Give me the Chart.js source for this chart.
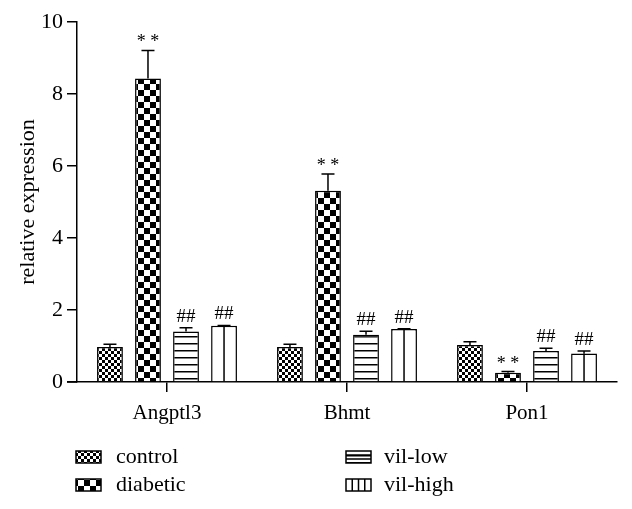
<!DOCTYPE html>
<html>
<head>
<meta charset="utf-8">
<script src="https://cdn.jsdelivr.net/npm/chart.js@4.4.1/dist/chart.umd.min.js"></script>
<style>
html,body{margin:0;padding:0;background:#fff;}
#wrap{width:632px;height:509px;position:relative;}
</style>
</head>
<body>
<div id="wrap"><canvas id="c" width="632" height="509"></canvas></div>
<script>
const categories = ['Angptl3', 'Bhmt', 'Pon1'];
const seriesNames = ['control', 'diabetic', 'vil-low', 'vil-high'];
const controlVals  = [0.97, 0.97, 1.03];
const diabeticVals = [8.43, 5.31, 0.26];
const vilLowVals   = [1.40, 1.31, 0.86];
const vilHighVals  = [1.56, 1.47, 0.79];
const controlErr   = [0.08, 0.08, 0.09];
const diabeticErr  = [0.78, 0.47, 0.03];
const vilLowErr    = [0.11, 0.10, 0.08];
const vilHighErr   = [0.01, 0.01, 0.07];
const controlMarks  = ['', '', ''];
const diabeticMarks = ['* *', '* *', '* *'];
const vilLowMarks   = ['##', '##', '##'];
const vilHighMarks  = ['##', '##', '##'];
const yTicks = [0, 2, 4, 6, 8, 10];

const FONT = '"Liberation Serif", "DejaVu Serif", serif';

function makePattern(kind) {
  const c = document.createElement('canvas');
  const ctx = c.getContext('2d');
  if (kind === 'fine') {
    const s = 3;
    c.width = 2 * s; c.height = 2 * s;
    ctx.fillStyle = '#fff'; ctx.fillRect(0, 0, c.width, c.height);
    ctx.fillStyle = '#000';
    ctx.fillRect(0, 0, s, s); ctx.fillRect(s, s, s, s);
  } else if (kind === 'coarse') {
    const s = 6;
    c.width = 2 * s; c.height = 2 * s;
    ctx.fillStyle = '#fff'; ctx.fillRect(0, 0, c.width, c.height);
    ctx.fillStyle = '#000';
    ctx.fillRect(0, 0, s, s); ctx.fillRect(s, s, s, s);
  } else if (kind === 'hlines') {
    c.width = 8; c.height = 7;
    ctx.fillStyle = '#fff'; ctx.fillRect(0, 0, 8, 7);
    ctx.fillStyle = '#000'; ctx.fillRect(0, 0, 8, 1.5);
  }
  return ctx.createPattern(c, 'repeat');
}
const ctx = document.getElementById('c').getContext('2d');
const fills = [makePattern('fine'), makePattern('coarse'), makePattern('hlines'), '#ffffff'];
const valueSets = [controlVals, diabeticVals, vilLowVals, vilHighVals];
const errSets = [controlErr, diabeticErr, vilLowErr, vilHighErr];
const markSets = [controlMarks, diabeticMarks, vilLowMarks, vilHighMarks];

const datasets = seriesNames.map((n, i) => ({
  label: n,
  data: valueSets[i],
  backgroundColor: fills[i],
  borderColor: '#000',
  borderWidth: 1.5,
  borderSkipped: 'bottom',
  categoryPercentage: 0.845,
  barPercentage: 0.68,
  errs: errSets[i],
  marks: markSets[i]
}));

const errorBarPlugin = {
  id: 'errbars',
  afterDatasetsDraw(chart) {
    const c = chart.ctx;
    const y = chart.scales.y;
    c.save();
    // small extension of the x axis line to the left of the y axis
    const a = chart.chartArea;
    c.strokeStyle = '#000';
    c.lineWidth = 1.5;
    c.beginPath();
    c.moveTo(a.left - 10, y.getPixelForValue(0));
    c.lineTo(a.left, y.getPixelForValue(0));
    c.stroke();
    chart.data.datasets.forEach((ds, di) => {
      const meta = chart.getDatasetMeta(di);
      meta.data.forEach((bar, i) => {
        const v = ds.data[i];
        const top = y.getPixelForValue(v + ds.errs[i]);
        const barTop = y.getPixelForValue(v);
        c.strokeStyle = '#000';
        c.lineWidth = 1.5;
        if (di === 3) {
          c.beginPath();
          c.moveTo(bar.x, barTop);
          c.lineTo(bar.x, bar.base);
          c.stroke();
        }
        c.beginPath();
        c.moveTo(bar.x, barTop);
        c.lineTo(bar.x, top);
        c.moveTo(bar.x - 6.5, top);
        c.lineTo(bar.x + 6.5, top);
        c.stroke();
        const m = ds.marks[i];
        if (m) {
          c.fillStyle = '#000';
          c.textAlign = 'center';
          c.textBaseline = 'alphabetic';
          if (m.indexOf('*') >= 0) {
            c.font = '18px ' + FONT;
            c.fillText(m, bar.x, top - 3);
          } else {
            c.font = '19px ' + FONT;
            c.fillText(m, bar.x, top - 6);
          }
        }
      });
    });
    c.restore();
  }
};

const legendPlugin = {
  id: 'customLegend',
  afterDraw(chart) {
    const c = chart.ctx;
    const pos = [
      {bx: 76, by: 451, tx: 116},
      {bx: 76, by: 479, tx: 116},
      {bx: 346, by: 451, tx: 384},
      {bx: 346, by: 479, tx: 384}
    ];
    c.save();
    seriesNames.forEach((n, i) => {
      const p = pos[i];
      const w = 25, h = 12;
      c.fillStyle = fills[i];
      c.fillRect(p.bx, p.by, w, h);
      c.strokeStyle = '#000';
      c.lineWidth = 1.5;
      if (i === 2) {
        c.beginPath();
        c.moveTo(p.bx, p.by + h / 3); c.lineTo(p.bx + w, p.by + h / 3);
        c.moveTo(p.bx, p.by + 2 * h / 3); c.lineTo(p.bx + w, p.by + 2 * h / 3);
        c.stroke();
      }
      if (i === 3) {
        c.beginPath();
        for (let k = 1; k < 4; k++) {
          c.moveTo(p.bx + k * w / 4, p.by); c.lineTo(p.bx + k * w / 4, p.by + h);
        }
        c.stroke();
      }
      c.strokeRect(p.bx, p.by, w, h);
      c.fillStyle = '#000';
      c.font = '22px ' + FONT;
      c.textAlign = 'left';
      c.textBaseline = 'middle';
      c.fillText(n, p.tx, p.by + h / 2);
    });
    c.restore();
  }
};

new Chart(ctx, {
  type: 'bar',
  data: { labels: categories, datasets },
  options: {
    responsive: false,
    animation: false,
    devicePixelRatio: 1,
    layout: { padding: { top: 22, right: 15, left: 0, bottom: 0 } },
    plugins: { legend: { display: false }, tooltip: { enabled: false } },
    scales: {
      x: {
        grid: { display: true, drawOnChartArea: false, drawTicks: true, tickLength: 10, offset: false, color: '#000', lineWidth: 1.5 },
        border: { display: true, color: '#000', width: 1.5 },
        ticks: { color: '#000', font: { family: FONT, size: 21 }, padding: 9 },
        afterFit(s) { s.height = 127; }
      },
      y: {
        min: 0, max: 10,
        afterBuildTicks(s) { s.ticks = yTicks.map(v => ({ value: v })); },
        grid: { display: true, drawOnChartArea: false, drawTicks: true, tickLength: 10, color: '#000', lineWidth: 1.5 },
        border: { display: true, color: '#000', width: 1.5 },
        ticks: { color: '#000', font: { family: FONT, size: 22 }, padding: 4 },
        title: { display: true, text: 'relative expression', color: '#000', font: { family: FONT, size: 22 }, padding: { top: 15, bottom: 0 } },
        afterFit(s) { s.width = 77; }
      }
    }
  },
  plugins: [errorBarPlugin, legendPlugin]
});
</script>
</body>
</html>
